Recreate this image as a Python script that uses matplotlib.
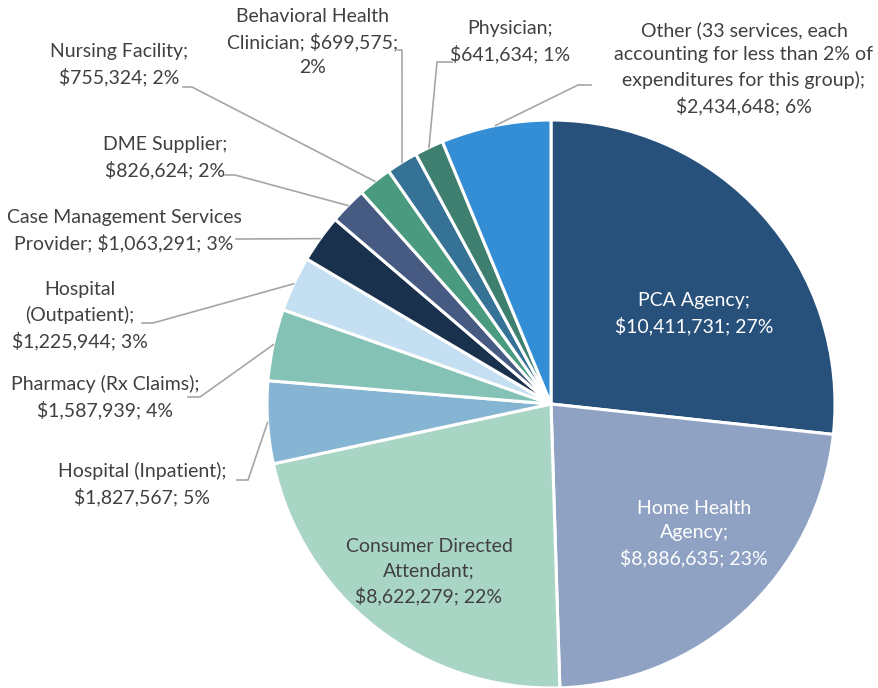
import numpy as np
import matplotlib
matplotlib.use("Agg")
import matplotlib.pyplot as plt

plt.rcParams['font.family'] = ['Lato', 'DejaVu Sans']

# expenditure by service type, clockwise from 12 o'clock
services = ['PCA Agency', 'Home Health Agency', 'Consumer Directed Attendant',
            'Hospital (Inpatient)', 'Pharmacy (Rx Claims)', 'Hospital (Outpatient)',
            'Case Management Services Provider', 'DME Supplier', 'Nursing Facility',
            'Behavioral Health Clinician', 'Physician', 'Other']
spend = [10411731, 8886635, 8622279, 1827567, 1587939, 1225944,
         1063291, 826624, 755324, 699575, 641634, 2434648]
pct_shown = [27, 23, 22, 5, 4, 3, 3, 2, 2, 2, 1, 6]

label_fmt = [
    "PCA Agency;\n{v}; {p}",
    "Home Health\nAgency;\n{v}; {p}",
    "Consumer Directed\nAttendant;\n{v}; {p}",
    "Hospital (Inpatient);\n{v}; {p}",
    "Pharmacy (Rx Claims);\n{v}; {p}",
    "Hospital\n(Outpatient);\n{v}; {p}",
    "Case Management Services\nProvider; {v}; {p}",
    "DME Supplier;\n{v}; {p}",
    "Nursing Facility;\n{v}; {p}",
    "Behavioral Health\nClinician; {v};\n{p}",
    "Physician;\n{v}; {p}",
    "Other (33 services, each\naccounting for less than 2% of\nexpenditures for this group);\n{v}; {p}",
]

colors = ['#27507b', '#8fa2c4', '#a9d5c5', '#86b4d3', '#84c2b5', '#c5dff2',
          '#1a314d', '#475a82', '#4a9a7f', '#367196', '#3f7f70', '#338ed6']

W, H = 879, 688
cx, cy, R = 551, 404, 284

# label centres in pixel space (y down); None leader = label sits inside slice
label_pos = [(694, 314), (694, 534), (429, 572), (142, 484), (105, 397),
             (80, 316), (124, 231), (165, 158), (119, 65), (313, 42),
             (510, 42), (744, 68)]
leader = [None, None, None,
          ((237, 480), (248, 480)),
          ((188, 397), (200, 397)),
          ((142, 323), (153, 323)),
          ((236, 239), (240, 239)),
          ((225, 175), (235, 175)),
          ((183, 87), (192, 87)),
          ((398, 50), (402, 50)),
          ((452, 62), (437, 62)),
          ((591, 85), (578, 85))]


def fy(py):
    return H - py


fig = plt.figure(figsize=(W / 100, H / 100), dpi=100)
ax = fig.add_axes([0, 0, 1, 1])
ax.pie(spend, colors=colors, startangle=90, counterclock=False,
       center=(cx, fy(cy)), radius=R,
       wedgeprops=dict(edgecolor='white', linewidth=2.2))
ax.set_xlim(0, W)
ax.set_ylim(0, H)
ax.set_aspect('equal')
ax.axis('off')

total = float(sum(spend))
frac = np.array(spend) / total
mids = 90 - 360 * (np.cumsum(frac) - frac / 2)

for i, name in enumerate(services):
    txt = label_fmt[i].format(v=f"${spend[i]:,}", p=f"{pct_shown[i]}%")
    inside = leader[i] is None
    tx, ty = label_pos[i]
    ax.text(tx, fy(ty), txt, ha='center', va='center', fontsize=14,
            color='white' if i < 2 else '#404040', linespacing=1.5)
    if not inside:
        a = np.deg2rad(mids[i])
        ex, ey = cx + R * np.cos(a), cy - R * np.sin(a)
        (x0, y0), (x1, y1) = leader[i]
        ax.plot([x0, x1, ex], [fy(y0), fy(y1), fy(ey)], color='#a6a6a6', lw=1.2)

fig.savefig('out.png', dpi=100)
